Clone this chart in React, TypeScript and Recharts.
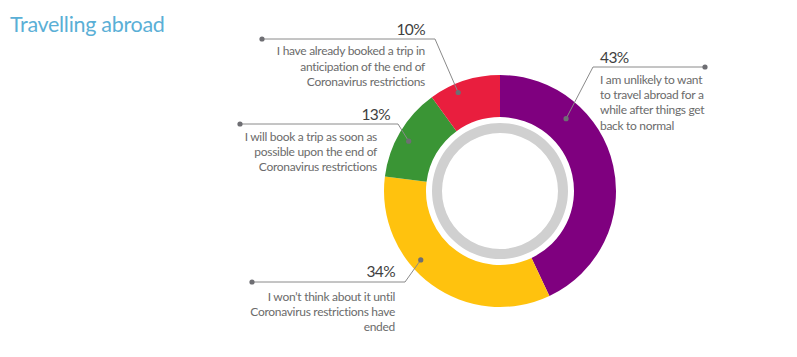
import React from 'react';
import { PieChart, Pie, Cell } from 'recharts';

const title = 'Travelling abroad';
const categories = [
  'I am unlikely to want to travel abroad for a while after things get back to normal',
  'I won’t think about it until Coronavirus restrictions have ended',
  'I will book a trip as soon as possible upon the end of Coronavirus restrictions',
  'I have already booked a trip in anticipation of the end of Coronavirus restrictions',
];
const values = [43, 34, 13, 10];
const labelLines = [
  ['I am unlikely to want', 'to travel abroad for a', 'while after things get', 'back to normal'],
  ['I won’t think about it until', 'Coronavirus restrictions have', 'ended'],
  ['I will book a trip as soon as', 'possible upon the end of', 'Coronavirus restrictions'],
  ['I have already booked a trip in', 'anticipation of the end of', 'Coronavirus restrictions'],
];
const colors = ['#7F007F', '#FFC20E', '#3A9535', '#E91E3E'];
const ringValue = [1];

const data = categories.map((name, i) => ({ name, value: values[i] }));
const ringData = ringValue.map((v) => ({ name: 'ring', value: v }));

const FONT = 'Lato, "Open Sans", sans-serif';

// layout of the callouts (positions only)
const layout = [
  { shift: 35, inset: 18, elbow: [593, 67], end: [705, 67], anchor: 'start', pctX: 600, pctY: 63, bodyX: 600, bodyY: 84, lh: 15.2 },
  { shift: -13, inset: 11, elbow: [405, 282], end: [252, 282], anchor: 'end', pctX: 395, pctY: 277, bodyX: 395, bodyY: 301, lh: 14.8 },
  { shift: 2, inset: 12, elbow: [398, 124], end: [240, 124], anchor: 'end', pctX: 390, pctY: 120, bodyX: 377, bodyY: 141, lh: 15 },
  { shift: 5, inset: 9, elbow: [435, 39], end: [262, 39], anchor: 'end', pctX: 425, pctY: 35, bodyX: 425, bodyY: 55, lh: 15.5 },
];

const RAD = Math.PI / 180;

const renderLabel = (props: any) => {
  const { cx, cy, midAngle, outerRadius, index, value } = props;
  const l = layout[index];
  const a = (midAngle + l.shift) * RAD;
  const r = outerRadius - l.inset;
  const dx = cx + r * Math.cos(-a);
  const dy = cy + r * Math.sin(-a);
  return (
    <g key={`lbl-${index}`}>
      <polyline
        points={`${dx},${dy} ${l.elbow[0]},${l.elbow[1]} ${l.end[0]},${l.end[1]}`}
        fill="none"
        stroke="#8A8A8A"
        strokeWidth={1}
      />
      <circle cx={dx} cy={dy} r={2.6} fill="#6E6E73" />
      <circle cx={l.end[0]} cy={l.end[1]} r={2.6} fill="#6E6E73" />
      <text x={l.pctX} y={l.pctY} textAnchor={l.anchor} fontFamily={FONT} fontSize={15.5} letterSpacing={-0.6} fill="#3F3F3F">
        {`${value}%`}
      </text>
      {labelLines[index].map((t, k) => (
        <text
          key={k}
          x={l.bodyX}
          y={l.bodyY + k * l.lh}
          textAnchor={l.anchor}
          fontFamily={FONT}
          fontSize={12}
          letterSpacing={-0.3}
          fill="#6B6B6B"
        >
          {t}
        </text>
      ))}
    </g>
  );
};

export default function App() {
  return (
    <div style={{ position: 'absolute', left: 0, top: 0, width: 797, height: 357, background: '#fff' }}>
      <PieChart width={797} height={357} margin={{ top: 0, right: 0, bottom: 0, left: 0 }}>
        <text x={10} y={32} fontFamily={FONT} fontSize={21.5} letterSpacing={-0.3} fill="#5AAFD6">
          {title}
        </text>
        <Pie
          data={ringData}
          dataKey="value"
          cx={500}
          cy={191}
          innerRadius={58}
          outerRadius={68}
          startAngle={90}
          endAngle={-270}
          stroke="none"
          fill="#D0D0D0"
          isAnimationActive={false}
        />
        <Pie
          data={data}
          dataKey="value"
          cx={500}
          cy={191}
          innerRadius={74}
          outerRadius={116}
          startAngle={90}
          endAngle={-270}
          stroke="none"
          label={renderLabel}
          labelLine={false}
          isAnimationActive={false}
        >
          {data.map((d, i) => (
            <Cell key={d.name} fill={colors[i]} />
          ))}
        </Pie>
      </PieChart>
    </div>
  );
}
